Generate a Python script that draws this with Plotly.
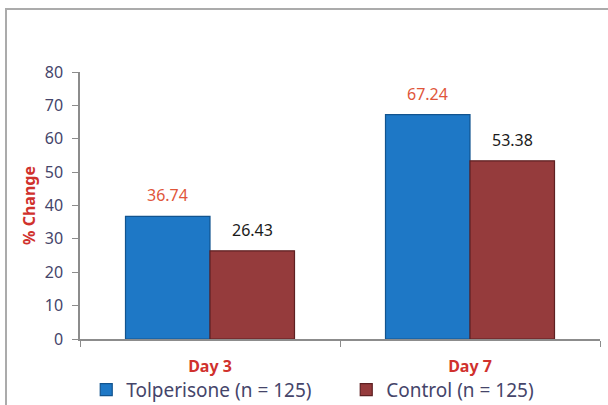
import plotly.graph_objects as go

categories = ["Day 3", "Day 7"]
tolperisone = [36.74, 67.24]
control = [26.43, 53.38]
series_names = ["Tolperisone (n = 125)", "Control (n = 125)"]
y_ticks = [0, 10, 20, 30, 40, 50, 60, 70, 80]

FONT = "Noto Sans"
BLUE = "#1E78C6"
BLUE_EDGE = "#12548F"
RED = "#953B3C"
RED_EDGE = "#5E2022"
LABEL_RED = "#E0553A"
TICK_COL = "#45456A"
TITLE_RED = "#D0312D"

fig = go.Figure()
fig.add_trace(go.Bar(
    x=categories, y=tolperisone, name=series_names[0],
    marker=dict(color=BLUE, line=dict(color=BLUE_EDGE, width=1.2)),
    offsetgroup="a",
))
fig.add_trace(go.Bar(
    x=categories, y=control, name=series_names[1],
    marker=dict(color=RED, line=dict(color=RED_EDGE, width=1.2)),
    offsetgroup="b",
))

# value labels
for i, c in enumerate(categories):
    fig.add_annotation(x=c, y=tolperisone[i], text=f"{tolperisone[i]:.2f}",
                       xshift=-42.5, yshift=8, yanchor="bottom", showarrow=False,
                       font=dict(family=FONT, size=16, color=LABEL_RED))
    fig.add_annotation(x=c, y=control[i], text=f"{control[i]:.2f}",
                       xshift=42.5, yshift=8, yanchor="bottom", showarrow=False,
                       font=dict(family=FONT, size=16, color="#1A1A1A"))

# outer frame
fig.add_shape(type="rect", xref="paper", yref="paper",
              x0=(6 - 80) / 520, x1=(640 - 80) / 520,
              y0=(339 - 440) / 267, y1=(339 - 9) / 267,
              line=dict(color="#ABABAB", width=2), fillcolor="rgba(0,0,0,0)",
              layer="below")

fig.update_layout(
    width=608, height=405,
    margin=dict(l=80, r=8, t=72, b=66, autoexpand=False),
    paper_bgcolor="white", plot_bgcolor="white",
    barmode="group", bargap=0.35, bargroupgap=0,
    font=dict(family=FONT, color=TICK_COL),
    showlegend=True,
    legend=dict(orientation="h", x=0.012, xanchor="left", y=-0.19, yanchor="middle",
                font=dict(family=FONT, size=19, color=TICK_COL),
                entrywidth=215, itemwidth=30, traceorder="normal",
                bgcolor="rgba(0,0,0,0)"),
    xaxis=dict(showline=True, linecolor="#8C8C8C", linewidth=1.5,
               ticks="outside", tickson="boundaries", ticklen=6, tickcolor="#8C8C8C",
               ticklabelstandoff=12,
               tickfont=dict(family=FONT, size=16, color=TITLE_RED, weight="bold"),
               showgrid=False, zeroline=False),
    yaxis=dict(range=[0, 80], tickvals=y_ticks, showline=True, linecolor="#8C8C8C",
               linewidth=1.5, ticks="outside", ticklen=6, tickcolor="#8C8C8C",
               ticklabelstandoff=6,
               tickfont=dict(family=FONT, size=16, color=TICK_COL),
               showgrid=False, zeroline=False,
               title=dict(text="% Change", standoff=5,
                          font=dict(family=FONT, size=16, color=TITLE_RED, weight="bold"))),
)

fig.write_html("out.html")
